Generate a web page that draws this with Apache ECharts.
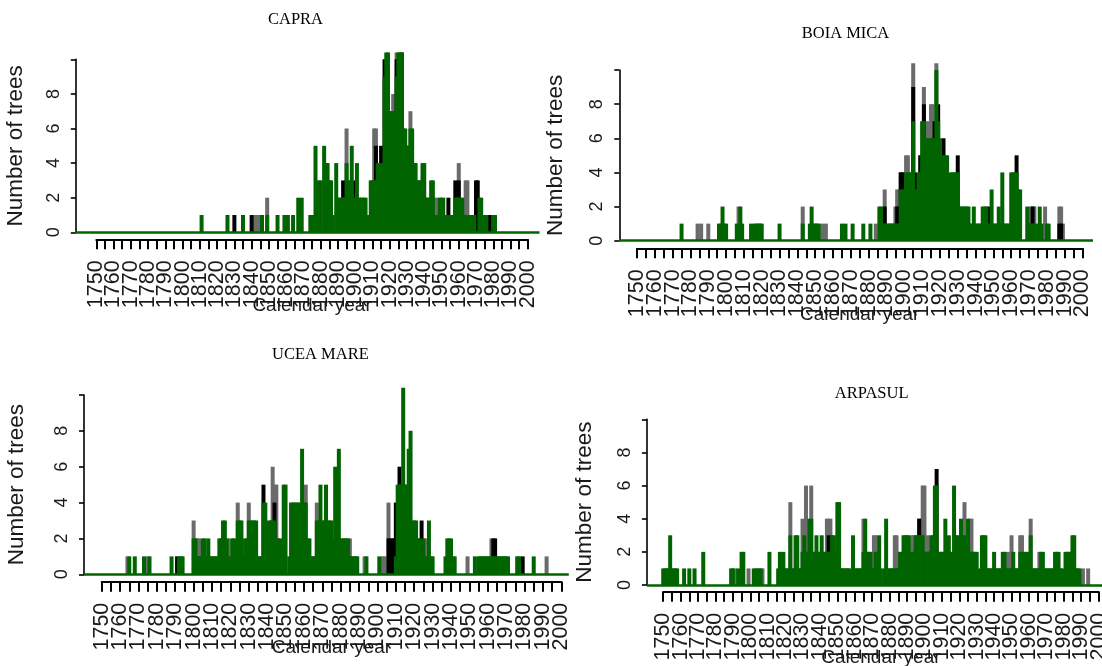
<!DOCTYPE html>
<html>
<head>
<meta charset="utf-8">
<title>Number of trees per calendar year</title>
<script src="https://cdn.jsdelivr.net/npm/echarts@6/dist/echarts.min.js"></script>
<style>
  html, body { margin: 0; padding: 0; background: #fff; }
  #chart { width: 1102px; height: 666px; }
</style>
</head>
<body>
<div id="chart"></div>
<script>
// site names, axis ticks
const sites = ['CAPRA', 'BOIA MICA', 'UCEA MARE', 'ARPASUL'];
const yTicks = [0, 2, 4, 6, 8, 10];
const yearFrom = 1750, yearTo = 2000;

// [calendar year, number of trees] - years not listed are 0
const capraGreen = [[1811,1],[1826,1],[1835,1],[1846,1],[1849,1],[1855,1],[1859,1],[1861,1],[1864,1],[1867,2],[1869,2],[1874,1],[1875,1],[1876,1],[1877,5],[1879,3],[1880,3],[1882,5],[1883,4],[1884,4],[1885,3],[1886,3],[1887,1],[1889,4],[1890,2],[1891,2],[1892,2],[1893,2],[1894,2],[1895,4],[1896,3],[1897,3],[1898,5],[1899,2],[1900,2],[1901,4],[1902,2],[1903,2],[1904,2],[1905,2],[1906,2],[1907,1],[1908,1],[1909,3],[1910,3],[1911,3],[1912,3],[1913,4],[1914,4],[1915,4],[1916,4],[1917,9],[1918,11],[1919,11],[1920,7],[1921,7],[1922,7],[1923,7],[1924,9],[1925,11],[1926,11],[1927,11],[1928,6],[1929,6],[1930,5],[1931,5],[1932,6],[1933,6],[1934,4],[1935,4],[1936,3],[1937,3],[1938,3],[1939,4],[1940,4],[1941,2],[1942,2],[1943,2],[1944,3],[1945,3],[1946,1],[1947,1],[1948,1],[1949,2],[1950,2],[1951,2],[1952,1],[1953,1],[1954,1],[1955,1],[1957,1],[1958,2],[1959,2],[1960,2],[1961,2],[1962,2],[1963,1],[1964,1],[1965,1],[1966,1],[1967,1],[1968,1],[1969,1],[1972,2],[1973,2],[1974,1],[1975,1],[1976,1],[1980,1],[1981,1]];
const capraBlack = [[1830,1],[1840,1],[1893,3],[1900,3],[1912,5],[1915,5],[1917,10],[1924,10],[1927,11],[1930,5],[1954,2],[1956,1],[1958,3],[1960,3],[1970,3],[1971,3],[1978,1]];
const capraGrey = [[1842,1],[1843,1],[1844,1],[1849,2],[1895,6],[1911,6],[1912,6],[1922,8],[1924,11],[1932,7],[1946,2],[1947,2],[1960,4],[1964,3],[1965,3]];

const boiaGreen = [[1775,1],[1796,1],[1797,1],[1798,2],[1799,1],[1800,1],[1806,1],[1808,2],[1809,1],[1814,1],[1816,1],[1817,1],[1818,1],[1819,1],[1820,1],[1830,1],[1843,1],[1847,1],[1848,2],[1849,1],[1850,1],[1851,1],[1852,1],[1865,1],[1867,1],[1871,1],[1877,1],[1881,1],[1886,2],[1887,2],[1888,1],[1889,1],[1890,1],[1891,1],[1892,1],[1894,1],[1895,1],[1896,1],[1897,1],[1898,3],[1899,3],[1900,3],[1901,4],[1902,4],[1903,4],[1904,4],[1905,7],[1906,3],[1907,3],[1908,4],[1909,4],[1910,7],[1911,7],[1912,6],[1913,6],[1914,6],[1915,6],[1916,6],[1917,6],[1918,10],[1919,7],[1920,6],[1921,5],[1922,5],[1923,5],[1924,5],[1925,2],[1926,4],[1927,4],[1928,4],[1929,4],[1930,4],[1931,2],[1932,2],[1933,2],[1934,2],[1935,2],[1936,2],[1937,1],[1938,1],[1939,2],[1940,1],[1941,1],[1942,1],[1943,1],[1944,2],[1945,2],[1946,2],[1947,1],[1948,1],[1949,3],[1950,1],[1951,1],[1952,1],[1953,2],[1954,1],[1955,4],[1956,1],[1957,1],[1958,1],[1959,1],[1960,4],[1961,4],[1962,4],[1963,4],[1964,3],[1965,3],[1969,2],[1970,1],[1971,1],[1972,1],[1973,1],[1975,1],[1976,2],[1977,1],[1980,1],[1981,1]];
const boiaBlack = [[1889,2],[1893,1],[1896,2],[1897,2],[1898,4],[1899,4],[1905,9],[1906,4],[1909,5],[1911,8],[1917,7],[1919,8],[1922,6],[1930,5],[1947,2],[1963,5],[1971,1],[1972,2],[1987,1],[1988,1]];
const boiaGrey = [[1784,1],[1786,1],[1790,1],[1807,2],[1843,2],[1854,1],[1856,1],[1884,1],[1889,3],[1895,2],[1896,3],[1897,3],[1898,4],[1899,4],[1901,5],[1902,5],[1905,11],[1909,5],[1911,9],[1913,7],[1915,8],[1916,8],[1918,11],[1971,2],[1972,2],[1973,2],[1979,2],[1987,2],[1988,2],[1989,1]];

const uceaGreen = [[1765,1],[1768,1],[1773,1],[1776,1],[1788,1],[1792,1],[1793,1],[1794,1],[1800,2],[1801,2],[1802,1],[1803,1],[1804,1],[1805,2],[1806,2],[1807,1],[1808,2],[1809,1],[1810,1],[1811,1],[1812,1],[1813,1],[1814,2],[1815,2],[1816,3],[1817,3],[1818,2],[1819,1],[1820,1],[1821,2],[1822,2],[1823,1],[1824,3],[1825,3],[1826,3],[1827,1],[1828,2],[1829,2],[1830,3],[1831,3],[1832,3],[1833,3],[1834,3],[1835,1],[1836,1],[1837,1],[1838,4],[1839,4],[1840,1],[1841,3],[1842,3],[1843,3],[1844,3],[1845,2],[1846,2],[1847,2],[1848,1],[1849,5],[1850,5],[1852,1],[1853,4],[1854,4],[1855,4],[1856,4],[1857,4],[1858,4],[1859,7],[1860,4],[1861,4],[1862,2],[1863,2],[1864,1],[1865,1],[1866,1],[1867,3],[1868,3],[1869,5],[1870,3],[1871,3],[1872,5],[1873,3],[1874,3],[1875,3],[1876,2],[1877,6],[1878,2],[1879,7],[1880,2],[1881,2],[1882,2],[1883,2],[1884,2],[1885,1],[1886,1],[1887,1],[1888,1],[1889,1],[1894,1],[1901,1],[1910,1],[1911,5],[1912,5],[1913,5],[1914,11],[1915,5],[1916,5],[1917,7],[1918,8],[1919,3],[1920,3],[1921,3],[1922,2],[1923,2],[1924,1],[1925,2],[1926,1],[1927,1],[1928,3],[1929,1],[1930,1],[1937,1],[1938,2],[1939,2],[1940,2],[1941,1],[1942,1],[1953,1],[1955,1],[1956,1],[1957,1],[1958,1],[1959,1],[1960,1],[1961,1],[1962,1],[1963,1],[1964,1],[1965,1],[1966,1],[1967,1],[1968,1],[1969,1],[1970,1],[1971,1],[1976,1],[1977,1],[1985,1]];
const uceaBlack = [[1791,1],[1838,5],[1844,4],[1906,2],[1907,2],[1908,2],[1909,2],[1910,4],[1912,6],[1924,3],[1963,2],[1964,2],[1979,1]];
const uceaGrey = [[1764,1],[1775,1],[1800,3],[1802,2],[1803,2],[1819,2],[1824,4],[1830,4],[1843,6],[1844,5],[1845,5],[1861,5],[1867,4],[1885,2],[1893,1],[1903,1],[1904,1],[1906,4],[1926,2],[1949,1],[1962,2],[1992,1]];

const arpasulGreen = [[1750,1],[1751,1],[1752,1],[1753,1],[1754,3],[1755,1],[1756,1],[1757,1],[1758,1],[1762,1],[1765,1],[1768,1],[1773,2],[1789,1],[1790,1],[1793,1],[1795,2],[1796,2],[1802,1],[1804,1],[1806,1],[1811,2],[1816,1],[1817,2],[1818,1],[1819,2],[1820,1],[1821,1],[1822,1],[1823,3],[1824,1],[1825,1],[1826,3],[1827,3],[1828,1],[1829,1],[1830,2],[1831,3],[1832,2],[1833,2],[1834,4],[1835,4],[1836,2],[1837,2],[1838,3],[1839,2],[1840,2],[1841,3],[1842,2],[1843,2],[1844,2],[1845,2],[1846,2],[1847,3],[1848,3],[1849,2],[1850,5],[1851,5],[1852,1],[1853,1],[1854,1],[1855,1],[1856,1],[1857,1],[1859,3],[1860,1],[1861,1],[1862,1],[1863,1],[1864,1],[1865,2],[1866,4],[1867,2],[1868,2],[1869,2],[1870,1],[1871,1],[1872,2],[1873,2],[1874,3],[1875,1],[1877,1],[1878,4],[1879,1],[1880,1],[1881,1],[1882,1],[1883,1],[1884,1],[1885,1],[1886,2],[1887,2],[1888,3],[1889,3],[1890,3],[1891,3],[1892,2],[1893,2],[1894,2],[1895,3],[1896,3],[1897,3],[1898,3],[1899,3],[1901,2],[1902,2],[1903,2],[1904,3],[1905,3],[1906,6],[1907,6],[1908,2],[1909,2],[1910,2],[1911,2],[1912,4],[1913,2],[1914,3],[1915,2],[1916,2],[1917,6],[1918,3],[1919,3],[1920,2],[1921,4],[1922,3],[1923,3],[1924,2],[1925,4],[1926,2],[1927,2],[1928,2],[1929,2],[1930,2],[1931,1],[1933,3],[1934,3],[1935,3],[1936,1],[1937,1],[1938,1],[1939,1],[1940,2],[1941,1],[1942,1],[1943,1],[1944,1],[1945,2],[1946,2],[1947,1],[1948,1],[1949,1],[1950,1],[1951,2],[1952,1],[1953,1],[1954,1],[1955,2],[1956,2],[1957,1],[1958,2],[1959,2],[1960,1],[1961,3],[1962,1],[1963,1],[1964,1],[1965,1],[1966,1],[1967,2],[1968,2],[1969,1],[1970,1],[1971,1],[1972,1],[1973,1],[1974,1],[1975,2],[1976,2],[1977,2],[1978,1],[1979,1],[1981,2],[1982,2],[1983,2],[1984,2],[1985,3],[1986,3],[1987,1],[1988,1],[1989,1]];
const arpasulBlack = [[1834,2],[1845,3],[1897,4],[1900,2],[1903,2],[1907,7]];
const arpasulGrey = [[1791,1],[1799,1],[1803,1],[1805,1],[1807,1],[1823,5],[1830,4],[1832,6],[1835,6],[1844,4],[1845,4],[1846,4],[1865,4],[1871,3],[1872,3],[1883,3],[1884,3],[1893,3],[1894,3],[1897,4],[1899,6],[1900,6],[1902,3],[1923,5],[1926,4],[1927,4],[1948,2],[1950,3],[1955,3],[1956,3],[1961,4],[1966,2],[1991,1],[1994,1]];

// where each panel sits on the page (pixels)
const layout = [
  { axisX: 75.8,  zeroY: 232.3, unit: 17.3,  x1750: 96.3,  x2000: 527.8,  lineEnd: 539.5, tickY: 239.3, titleX: 295.5, titleY: 20,  yNameX: 19.4 },
  { axisX: 619.3, zeroY: 240.7, unit: 17.07, x1750: 637,   x2000: 1082.5, lineEnd: 1093,  tickY: 248.3, titleX: 845.5, titleY: 34,  yNameX: 558.8 },
  { axisX: 84,    zeroY: 574.3, unit: 17.93, x1750: 101.7, x2000: 561.3,  lineEnd: 568.8, tickY: 581.7, titleX: 320.4, titleY: 355, yNameX: 20.4 },
  { axisX: 646.9, zeroY: 585,   unit: 16.57, x1750: 663.2, x2000: 1098.6, lineEnd: 1102,  tickY: 591.7, titleX: 871.7, titleY: 394, yNameX: 587.8 }
];
const seriesSets = [
  [capraGrey, capraBlack, capraGreen],
  [boiaGrey, boiaBlack, boiaGreen],
  [uceaGrey, uceaBlack, uceaGreen],
  [arpasulGrey, arpasulBlack, arpasulGreen]
];
const colors = ['#6b6b6b', '#000000', '#006400'];

const sans = '"Liberation Sans", Arial, Helvetica, sans-serif';
const serif = '"Liberation Serif", "Times New Roman", serif';
const yTop = 10.4;   // plot region tops out a bit above 10
const yBottom = -0.1;

const grid = [], xAxis = [], yAxis = [], series = [], graphic = [];

layout.forEach(function (p, i) {
  const ppy = (p.x2000 - p.x1750) / (yearTo - yearFrom);
  const g = i * 3;

  // bars
  grid.push({
    left: p.axisX, top: p.zeroY - yTop * p.unit,
    width: p.lineEnd - p.axisX, height: (yTop - yBottom) * p.unit,
    containLabel: false, outerBoundsMode: 'none'
  });
  xAxis.push({
    gridIndex: g, type: 'value', show: false,
    min: yearFrom - (p.x1750 - p.axisX) / ppy,
    max: yearFrom + (p.lineEnd - p.x1750) / ppy,
    splitLine: { show: false }
  });
  yAxis.push({ gridIndex: g, type: 'value', show: false, min: yBottom, max: yTop, splitLine: { show: false } });

  // left axis 0..10
  grid.push({
    left: p.axisX, top: p.zeroY - 10 * p.unit, width: 10, height: 10 * p.unit,
    containLabel: false, outerBoundsMode: 'none'
  });
  xAxis.push({ gridIndex: g + 1, type: 'value', show: false, min: 0, max: 1, splitLine: { show: false } });
  yAxis.push({
    gridIndex: g + 1, type: 'value', min: yTicks[0], max: yTicks[yTicks.length - 1], interval: 2,
    name: 'Number of trees', nameLocation: 'middle', nameRotate: 90, nameMoveOverlap: false,
    nameGap: p.axisX - p.yNameX - 8,
    nameTextStyle: { fontFamily: sans, fontSize: 22.5, color: '#1a1a1a' },
    axisLine: { show: true, onZero: false, lineStyle: { color: '#000', width: 1.6 } },
    axisTick: { show: true, length: 5, lineStyle: { color: '#000', width: 1.6 } },
    axisLabel: {
      rotate: 90, margin: 13, fontFamily: sans, fontSize: 18, color: '#1a1a1a',
      formatter: function (v) { return v === 10 ? '' : String(v); }
    },
    splitLine: { show: false }
  });

  // bottom axis 1750..2000
  grid.push({
    left: p.x1750, top: p.tickY - 10, width: p.x2000 - p.x1750, height: 10,
    containLabel: false, outerBoundsMode: 'none'
  });
  xAxis.push({
    gridIndex: g + 2, type: 'value', position: 'bottom', min: yearFrom, max: yearTo, interval: 5,
    name: 'Calendar year', nameLocation: 'middle', nameGap: 57, nameMoveOverlap: false,
    nameTextStyle: { fontFamily: sans, fontSize: 19, color: '#1a1a1a' },
    axisLine: { show: true, onZero: false, lineStyle: { color: '#000', width: 2 } },
    axisTick: { show: true, length: 10, lineStyle: { color: '#000', width: 2 } },
    axisLabel: {
      rotate: 90, margin: 21, fontFamily: sans, fontSize: 21.5, color: '#1a1a1a',
      formatter: function (v) { return v % 10 === 0 ? String(v) : ''; }
    },
    splitLine: { show: false }
  });
  yAxis.push({ gridIndex: g + 2, type: 'value', show: false, min: 0, max: 1, splitLine: { show: false } });

  // grey, black, green drawn in that order
  seriesSets[i].forEach(function (data, k) {
    const s = {
      type: 'bar', xAxisIndex: g, yAxisIndex: g, data: data,
      barWidth: 4, barGap: '-100%', clip: true, silent: true,
      itemStyle: { color: colors[k] }
    };
    if (k === 2) {
      s.markLine = {
        silent: true, symbol: 'none', label: { show: false },
        lineStyle: { color: colors[2], width: 2.5, type: 'solid' },
        data: [{ yAxis: 0 }]
      };
    }
    series.push(s);
  });

  graphic.push({
    type: 'text', x: p.titleX, y: p.titleY,
    style: { text: sites[i], font: '16.5px ' + serif, fill: '#000', align: 'center', verticalAlign: 'middle' }
  });
});

const chart = echarts.init(document.getElementById('chart'), null, { renderer: 'canvas' });
chart.setOption({
  animation: false,
  backgroundColor: '#fff',
  grid: grid,
  xAxis: xAxis,
  yAxis: yAxis,
  series: series,
  graphic: graphic
});
</script>
</body>
</html>
